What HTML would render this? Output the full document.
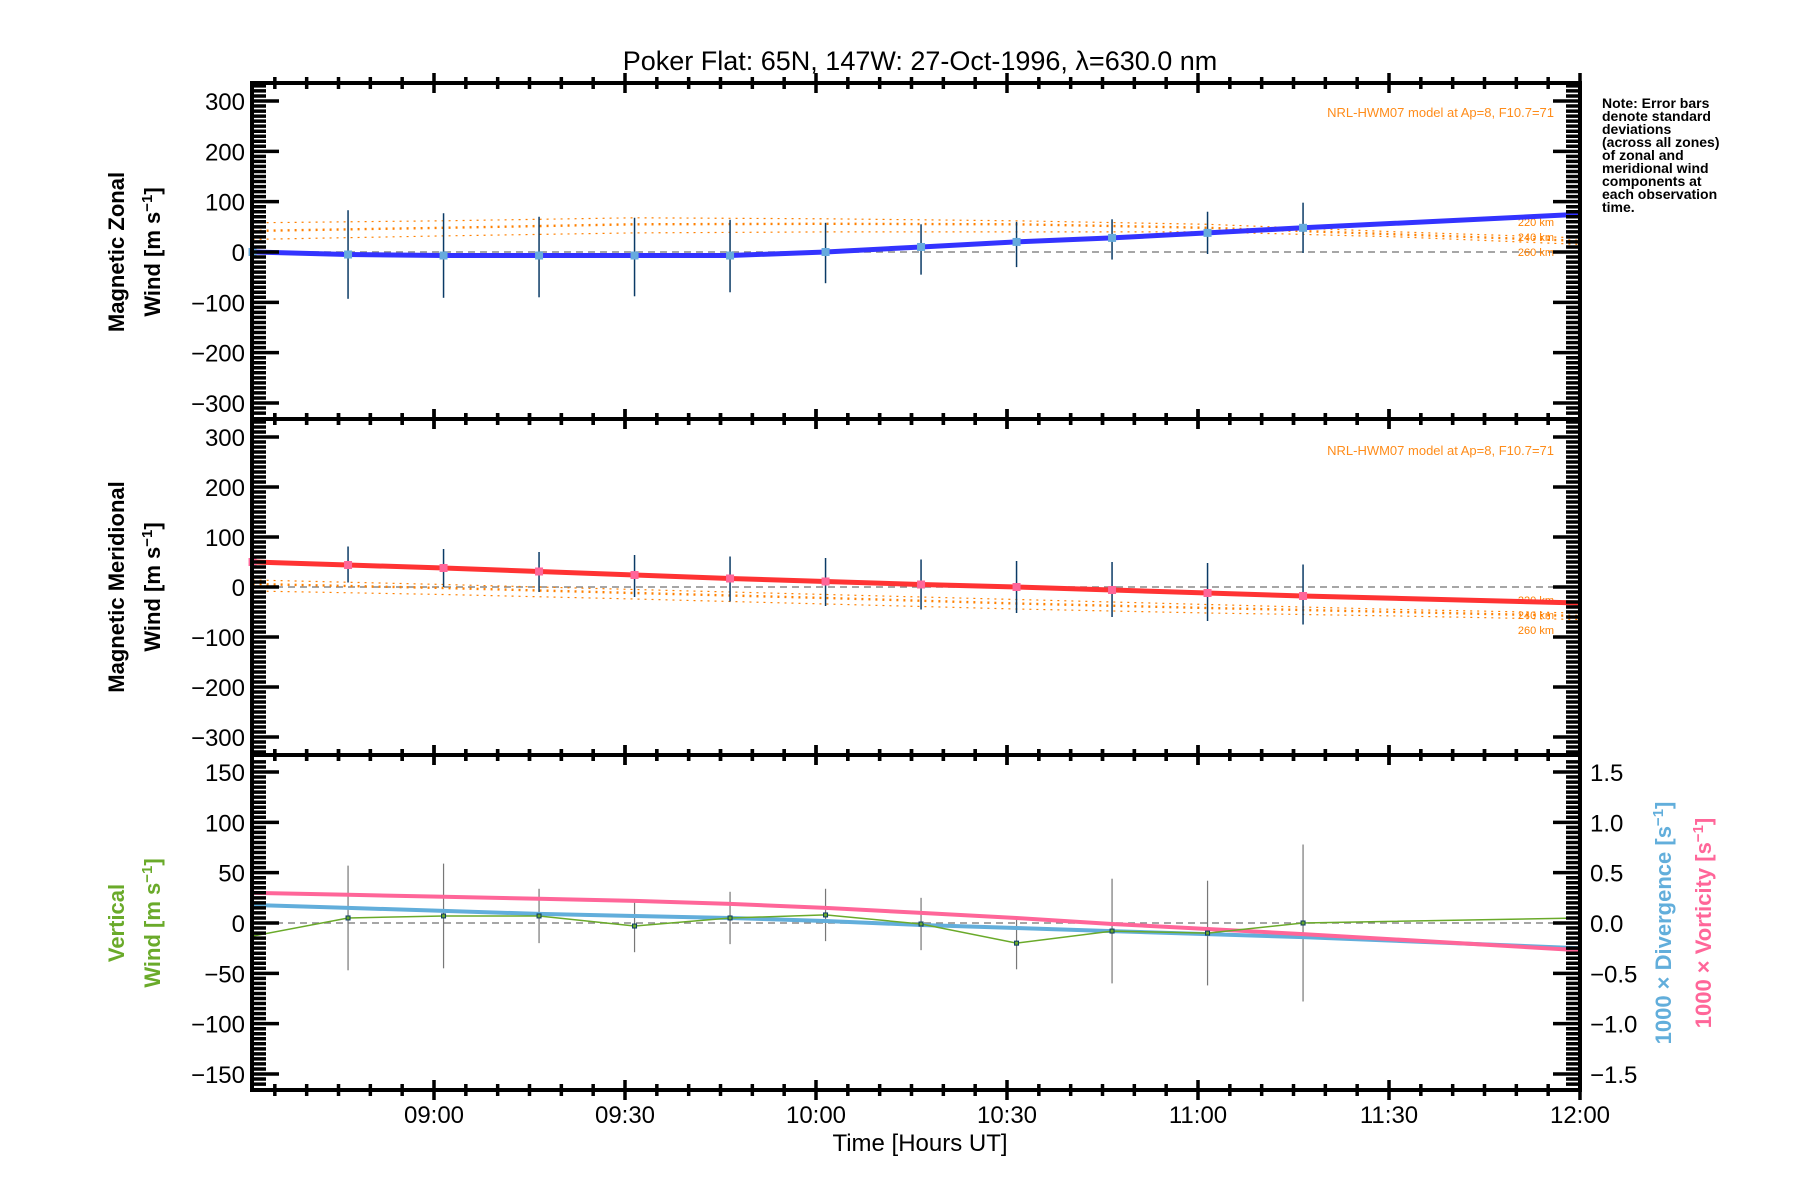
<!DOCTYPE html>
<html><head><meta charset="utf-8"><style>
html,body{margin:0;padding:0;background:#fff;}
svg{display:block;font-family:"Liberation Sans",sans-serif;}
</style></head><body>
<svg id="chart" width="1800" height="1200" viewBox="0 0 1800 1200" xmlns="http://www.w3.org/2000/svg">
<text x="920" y="70" font-size="27" text-anchor="middle">Poker Flat: 65N, 147W: 27-Oct-1996, λ=630.0 nm</text>
<text font-size="14" font-weight="bold" x="1602">
<tspan x="1602" y="108">Note: Error bars</tspan><tspan x="1602" y="121">denote standard</tspan><tspan x="1602" y="134">deviations</tspan><tspan x="1602" y="147">(across all zones)</tspan><tspan x="1602" y="160">of zonal and</tspan><tspan x="1602" y="173">meridional wind</tspan><tspan x="1602" y="186">components at</tspan><tspan x="1602" y="199">each observation</tspan><tspan x="1602" y="212">time.</tspan></text>
<text font-size="22" font-weight="bold" text-anchor="middle" transform="translate(124,252) rotate(-90)">Magnetic Zonal</text>
<text font-size="22" font-weight="bold" text-anchor="middle" transform="translate(160,252) rotate(-90)">Wind [m s<tspan baseline-shift="super" font-size="15">−1</tspan>]</text>
<text font-size="22" font-weight="bold" text-anchor="middle" transform="translate(124,587) rotate(-90)">Magnetic Meridional</text>
<text font-size="22" font-weight="bold" text-anchor="middle" transform="translate(160,587) rotate(-90)">Wind [m s<tspan baseline-shift="super" font-size="15">−1</tspan>]</text>
<text font-size="22" font-weight="bold" fill="#6aaa2a" text-anchor="middle" transform="translate(124,923) rotate(-90)">Vertical</text>
<text font-size="22" font-weight="bold" fill="#6aaa2a" text-anchor="middle" transform="translate(160,923) rotate(-90)">Wind [m s<tspan baseline-shift="super" font-size="15">−1</tspan>]</text>
<text font-size="22" font-weight="bold" fill="#62aedb" text-anchor="middle" transform="translate(1671,923) rotate(-90)">1000 × Divergence [s<tspan baseline-shift="super" font-size="15">−1</tspan>]</text>
<text font-size="22" font-weight="bold" fill="#ff6699" text-anchor="middle" transform="translate(1711,923) rotate(-90)">1000 × Vorticity [s<tspan baseline-shift="super" font-size="15">−1</tspan>]</text>
<text x="920" y="1151" font-size="24" text-anchor="middle">Time [Hours UT]</text>
<text x="1554" y="117" font-size="13" fill="#ff8c1a" text-anchor="end">NRL-HWM07 model at Ap=8, F10.7=71</text>
<text x="1554" y="455" font-size="13" fill="#ff8c1a" text-anchor="end">NRL-HWM07 model at Ap=8, F10.7=71</text>
</svg>
<script>
// ---- data ----
const obsTimes = [511.5, 526.5, 541.5, 556.5, 571.5, 586.5, 601.5, 616.5, 631.5, 646.5, 661.5, 676.5, 720];
const zonalWind = [0, -5, -7, -7, -7, -7, 0, 10, 20, 28, 38, 48, 75];
const zonalErr = [85, 88, 84, 80, 78, 72, 60, 50, 45, 40, 42, 50];
const zonalErrCenter = [-5, -5, -7, -10, -10, -8, -2, 5, 15, 25, 38, 48];
const meridWind = [50, 44, 38, 31, 24, 17, 11, 5, 0, -6, -12, -18, -32];
const meridErr = [38, 36, 38, 40, 42, 45, 48, 50, 52, 55, 58, 60];
const meridErrCenter = [45, 45, 38, 30, 22, 16, 10, 5, 0, -5, -10, -15];
const modelTimes = [511.5, 541.5, 571.5, 601.5, 631.5, 661.5, 691.5, 720];
const zonal220 = [58, 62, 68, 66, 62, 55, 40, 28];
const zonal240 = [42, 48, 55, 56, 55, 48, 35, 22];
const zonal260 = [25, 32, 38, 40, 40, 40, 30, 15];
const merid220 = [14, 5, -5, -15, -25, -35, -45, -52];
const merid240 = [6, -2, -12, -22, -33, -42, -50, -58];
const merid260 = [-8, -15, -24, -34, -44, -52, -58, -65];
const vertWind = [-13, 5, 7, 7, -3, 5, 8, -1, -20, -8, -10, 0, 5];
const vertErr = [0, 52, 52, 27, 26, 26, 26, 26, 26, 52, 52, 78];
const divergence = [0.18, 0.15, 0.12, 0.09, 0.07, 0.05, 0.02, -0.02, -0.05, -0.08, -0.11, -0.14, -0.25];
const vorticity = [0.30, 0.28, 0.26, 0.24, 0.22, 0.19, 0.15, 0.10, 0.05, -0.01, -0.06, -0.11, -0.27];
const xTickLabels = ["09:00", "09:30", "10:00", "10:30", "11:00", "11:30", "12:00"];
const xTickMinutes = [540, 570, 600, 630, 660, 690, 720];
const windTicks = [300, 200, 100, 0, -100, -200, -300];
const vertTicks = [150, 100, 50, 0, -50, -100, -150];
const rightTicks = [1.5, 1.0, 0.5, 0.0, -0.5, -1.0, -1.5];

// ---- layout ----
const svg = document.getElementById('chart');
const NS = 'http://www.w3.org/2000/svg';
const L = 252, R = 1580;
const panels = [{top: 83, bot: 419, zero: 252, k: 151/300}, {top: 419, bot: 755, zero: 587, k: 0.5}, {top: 755, bot: 1090, zero: 923, k: 151/150}];
const xs = t => 434 + (t - 540) * 1146 / 180;
const yp = (p, v) => panels[p].zero - v * panels[p].k;
function mk(tag, attrs, parent) {
  const e = document.createElementNS(NS, tag);
  for (const a in attrs) e.setAttribute(a, attrs[a]);
  (parent || svg).appendChild(e);
  return e;
}
function poly(p, times, vals, attrs, scale) {
  const s = scale || 1;
  const pts = times.map((t, i) => xs(t).toFixed(1) + ',' + yp(p, vals[i] * s).toFixed(1)).join(' ');
  return mk('polyline', Object.assign({points: pts, fill: 'none'}, attrs));
}
const fmt = v => (v < 0 ? '−' : '') + Math.abs(v);

for (let p = 0; p < 3; p++) {
  const z = mk('line', {x1: L, x2: R, y1: yp(p, 0), y2: yp(p, 0), stroke: '#888', 'stroke-width': 1.5, 'stroke-dasharray': '7,5'});
  
  
}

[[zonal220, 1.2], [zonal240, 2.4], [zonal260, 1.2]].forEach((arr, i) => {
  const l = poly(0, modelTimes, arr[0], {stroke: '#ff8000', 'stroke-width': arr[1], 'stroke-dasharray': '2,5'});
  
  
  const l2 = poly(1, modelTimes, [merid220, merid240, merid260][i], {stroke: '#ff8000', 'stroke-width': arr[1], 'stroke-dasharray': '2,5'});
  
  
});
['220 km', '240 km', '260 km'].forEach((s, i) => {
  const t = mk('text', {x: 1554, y: 226 + i * 15, 'font-size': 11, fill: '#ff8000', 'text-anchor': 'end'});
  t.textContent = s;
  
  
  const t2 = mk('text', {x: 1554, y: 604 + i * 15, 'font-size': 11, fill: '#ff8000', 'text-anchor': 'end'});
  t2.textContent = s;
  
  
});
zonalErr.forEach((e, i) => {
  const x = xs(obsTimes[i]);
  const b = mk('line', {x1: x, x2: x, y1: yp(0, zonalErrCenter[i] + e), y2: yp(0, zonalErrCenter[i] - e), stroke: '#0a3a66', 'stroke-width': 1.5});
  
  
  const b2 = mk('line', {x1: x, x2: x, y1: yp(1, meridErrCenter[i] + meridErr[i]), y2: yp(1, meridErrCenter[i] - meridErr[i]), stroke: '#0a3a66', 'stroke-width': 1.5});
  
  
});
const zl = poly(0, obsTimes, zonalWind, {stroke: '#3333ff', 'stroke-width': 5});


const ml = poly(1, obsTimes, meridWind, {stroke: '#ff3333', 'stroke-width': 5});


obsTimes.slice(0, 12).forEach((t, i) => {
  const s = mk('rect', {x: xs(t) - 4, y: yp(0, zonalWind[i]) - 4, width: 8, height: 8, fill: '#66aadd'});
  
  
  const s2 = mk('rect', {x: xs(t) - 4, y: yp(1, meridWind[i]) - 4, width: 8, height: 8, fill: '#ff6699'});
  
  
});

vertErr.forEach((e, i) => {
  if (!e) return;
  const x = xs(obsTimes[i]);
  const b = mk('line', {x1: x, x2: x, y1: yp(2, vertWind[i] + e), y2: yp(2, vertWind[i] - e), stroke: '#777', 'stroke-width': 1.2});
  
  
});
const dl = poly(2, obsTimes, divergence, {stroke: '#62aedb', 'stroke-width': 4}, 100);


const vl = poly(2, obsTimes, vorticity, {stroke: '#ff6699', 'stroke-width': 4}, 100);


const gl = poly(2, obsTimes, vertWind, {stroke: '#6aaa2a', 'stroke-width': 1.5});


obsTimes.forEach((t, i) => {
  if (!vertErr[i]) return;
  const s = mk('rect', {x: xs(t) - 2, y: yp(2, vertWind[i]) - 2, width: 4, height: 4, fill: '#6aaa2a', stroke: '#0a3a66', 'stroke-width': 1});
  
  
});

panels.forEach((pn, p) => {
  const f = mk('rect', {x: L, y: pn.top, width: R - L, height: pn.bot - pn.top, fill: 'none', stroke: '#000', 'stroke-width': 4});
  
  
  let d = '';
  const step = p < 2 ? 10 : 5, maj = p < 2 ? 100 : 50, lim = p < 2 ? 330 : 165;
  for (let v = -lim + (lim % step); v <= lim; v += step) {
    const y = yp(p, v);
    if (y < pn.top + 2 || y > pn.bot - 2) continue;
    const len = v % maj === 0 ? 27 : 14;
    d += `M${L},${y}h${len}M${R},${y}h${-len}`;
  }
  for (let t = 515; t <= 720; t += 5) {
    const x = xs(t);
    const big = t % 30 === 0;
    const len = big ? 10 : 6;
    d += `M${x},${pn.top - len}v${2 * len}M${x},${pn.bot - len}v${2 * len}`;
  }
  const tk = mk('path', {d: d, stroke: '#000', 'stroke-width': 3.5, fill: 'none'});
  
  
  const ticks = p < 2 ? windTicks : vertTicks;
  ticks.forEach(v => {
    const tx = mk('text', {x: 245, y: yp(p, v) + 9, 'font-size': 24, 'text-anchor': 'end'});
    tx.textContent = fmt(v);
    
    
  });
});
rightTicks.forEach(v => {
  const tx = mk('text', {x: 1590, y: yp(2, v * 100) + 9, 'font-size': 24});
  tx.textContent = (v < 0 ? '−' : '') + Math.abs(v).toFixed(1);
  
  
});
xTickLabels.forEach((s, i) => {
  const tx = mk('text', {x: xs(xTickMinutes[i]), y: 1123, 'font-size': 24, 'text-anchor': 'middle'});
  tx.textContent = s;
  
  
});
</script>
</body></html>
